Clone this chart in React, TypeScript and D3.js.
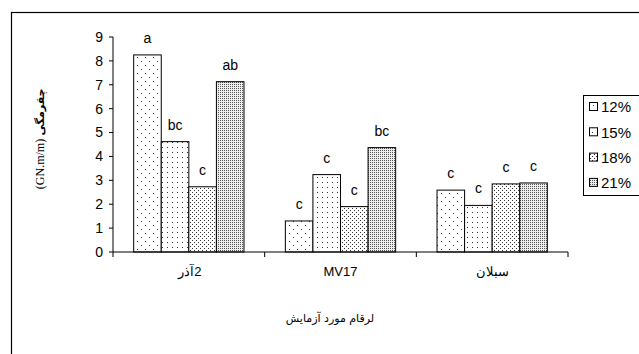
import React from "react";
import * as d3 from "d3";

const categories = ["آذر2", "MV17", "سبلان"];
const series = ["12%", "15%", "18%", "21%"];
const values: number[][] = [
  [8.25, 4.62, 2.73, 7.13],
  [1.3, 3.24, 1.9, 4.37],
  [2.59, 1.95, 2.85, 2.89],
];
const letters: string[][] = [
  ["a", "bc", "c", "ab"],
  ["c", "c", "c", "bc"],
  ["c", "c", "c", "c"],
];
const yTicks = [0, 1, 2, 3, 4, 5, 6, 7, 8, 9];
const yTitleUnit = "(GN.m/m)";
const yTitleWord = "چقرمگی";
const xTitle = "لرقام مورد آزمایش";

const W = 639;
const H = 354;
const left = 113;
const right = 568;
const top = 37;
const bottom = 252;

const patternIds = ["p12", "p15", "p18", "p21"];

function Patterns() {
  return (
    <defs>
      <pattern id="p12" width={8} height={8} patternUnits="userSpaceOnUse">
        <rect width={8} height={8} fill="#fff" />
        <rect x={1} y={1} width={1} height={1} fill="#333" />
        <rect x={5} y={5} width={1} height={1} fill="#333" />
      </pattern>
      <pattern id="p15" width={5} height={5} patternUnits="userSpaceOnUse">
        <rect width={5} height={5} fill="#fff" />
        <rect x={2} y={2} width={1} height={1} fill="#333" />
      </pattern>
      <pattern id="p18" width={4} height={4} patternUnits="userSpaceOnUse">
        <rect width={4} height={4} fill="#fff" />
        <rect x={0} y={0} width={1} height={1} fill="#333" />
        <rect x={2} y={2} width={1} height={1} fill="#333" />
      </pattern>
      <pattern id="p21" width={2} height={2} patternUnits="userSpaceOnUse">
        <rect width={2} height={2} fill="#eee" />
        <rect x={0} y={0} width={1} height={1} fill="#555" />
      </pattern>
    </defs>
  );
}

// Category label: a trailing digit is drawn as its own run to the right of the Persian word
function CategoryLabel({ label, cx, fontFamily }: { label: string; cx: number; fontFamily: string }) {
  const m = label.match(/^(.*?)(\d+)$/);
  if (m && /[\u0600-\u06FF]/.test(m[1])) {
    return (
      <g>
        <text x={cx - 3} y={271} dy="0.35em" textAnchor="middle" fontFamily={fontFamily} fontSize={13}>
          {m[1]}
        </text>
        <text x={cx + 9} y={271} dy="0.35em" textAnchor="middle" fontFamily={fontFamily} fontSize={13}>
          {m[2]}
        </text>
      </g>
    );
  }
  return (
    <text x={cx} y={271} dy="0.35em" textAnchor="middle" fontFamily={fontFamily} fontSize={13}>
      {label}
    </text>
  );
}

export default function App() {
  const x0 = d3.scaleBand<string>().domain(categories).range([left, right]).paddingInner(0).paddingOuter(0);
  const x1 = d3
    .scaleBand<string>()
    .domain(series)
    .range([0, x0.bandwidth()])
    .paddingInner(0)
    .paddingOuter(0.75);
  const y = d3.scaleLinear().domain([0, 9]).range([bottom, top]);

  const sans = "'Liberation Sans', Arial, sans-serif";
  const catTicks = [...categories.map((c) => x0(c)!), right];

  return (
    <svg
      width={W}
      height={H}
      style={{ position: "absolute", left: 0, top: 0, background: "#fff" }}
    >
      <Patterns />
      <rect x={0} y={0} width={W} height={H} fill="#fff" />
      <rect x={11.5} y={12.5} width={W} height={H} fill="none" stroke="#000" strokeWidth={1.2} />

      {/* bars */}
      {categories.map((c, ci) =>
        series.map((s, si) => {
          const v = values[ci][si];
          const bx = x0(c)! + x1(s)!;
          const by = y(v);
          return (
            <g key={c + s}>
              <rect
                x={bx}
                y={by}
                width={x1.bandwidth()}
                height={bottom - by}
                fill={`url(#${patternIds[si]})`}
                stroke="#000"
                strokeWidth={1}
              />
              <text
                x={bx + x1.bandwidth() / 2}
                y={by - 12}
                textAnchor="middle"
                fontFamily={sans}
                fontSize={14}
              >
                {letters[ci][si]}
              </text>
            </g>
          );
        })
      )}

      {/* y axis */}
      <line x1={left} x2={left} y1={top} y2={bottom} stroke="#000" />
      {yTicks.map((t) => (
        <g key={t}>
          <line x1={left - 4} x2={left} y1={y(t)} y2={y(t)} stroke="#000" />
          <text
            x={left - 10}
            y={y(t)}
            dy="0.35em"
            textAnchor="end"
            fontFamily={sans}
            fontSize={14}
          >
            {t}
          </text>
        </g>
      ))}

      {/* x axis */}
      <line x1={left} x2={right} y1={bottom} y2={bottom} stroke="#000" />
      {catTicks.map((t, i) => (
        <line key={i} x1={t} x2={t} y1={bottom} y2={bottom + 5} stroke="#000" />
      ))}
      {categories.map((c) => (
        <CategoryLabel key={c} label={c} cx={x0(c)! + x0.bandwidth() / 2} fontFamily={sans} />
      ))}

      {/* axis titles */}
      <text
        x={330}
        y={318}
        dy="0.35em"
        textAnchor="middle"
        fontFamily="'DejaVu Sans', sans-serif"
        fontSize={11}
      >
        {xTitle}
      </text>
      <text
        transform={`translate(40,164) rotate(-90)`}
        textAnchor="middle"
        dy="0.35em"
        fontFamily="'Liberation Serif', 'DejaVu Serif', serif"
        fontSize={12}
      >
        {yTitleUnit}
      </text>
      <text
        transform={`translate(40,112) rotate(-90)`}
        textAnchor="middle"
        dy="0.35em"
        fontFamily="'DejaVu Sans', sans-serif"
        fontSize={11}
        fontWeight="bold"
      >
        {yTitleWord}
      </text>

      {/* legend */}
      <rect x={583.5} y={95.5} width={80} height={100} fill="#fff" stroke="#000" />
      {series.map((s, i) => {
        const cy = 107 + i * 25.3;
        return (
          <g key={s}>
            <rect
              x={589.5}
              y={cy - 4.5}
              width={8}
              height={8}
              fill={`url(#${patternIds[i]})`}
              stroke="#000"
            />
            <text x={601} y={cy} dy="0.35em" fontFamily={sans} fontSize={15}>
              {s}
            </text>
          </g>
        );
      })}
    </svg>
  );
}
